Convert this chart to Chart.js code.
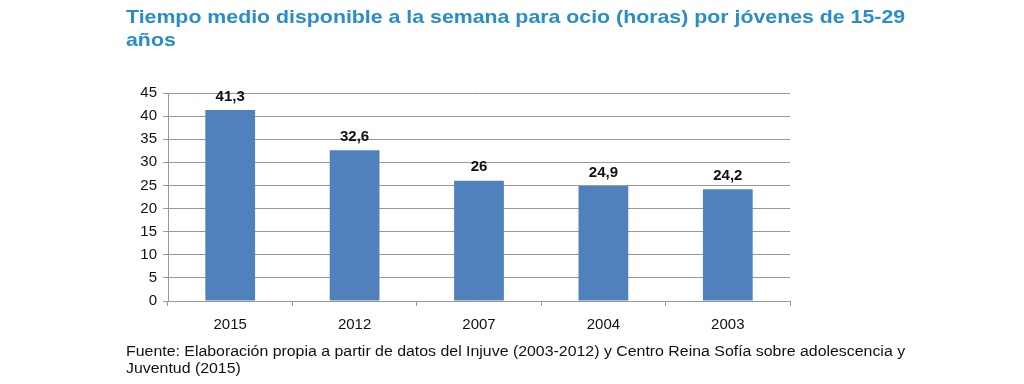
<!DOCTYPE html>
<html>
<head>
<meta charset="utf-8">
<script src="https://cdn.jsdelivr.net/npm/chart.js@4"></script>
<style>
  body { margin: 0; background: #fff; }
  #wrap { position: relative; width: 1024px; height: 384px; overflow: hidden; }
  #title { position: absolute; left: 126px; top: 5px; white-space: nowrap; font: bold 19px "Liberation Sans", Arial, sans-serif; color: #2a8dcb; line-height: 23px; transform: scaleX(1.122); transform-origin: left top; }
  #source { position: absolute; left: 126px; top: 343px; white-space: nowrap; font: 14px "Liberation Sans", Arial, sans-serif; color: #111; line-height: 17px; transform: scaleX(1.135); transform-origin: left top; }
  #box { position: absolute; left: 0; top: 0; width: 1024px; height: 384px; }
</style>
</head>
<body>
<div id="wrap">
  <div id="box"><canvas id="chart"></canvas></div>
  <div id="title">Tiempo medio disponible a la semana para ocio (horas) por jóvenes de 15-29<br>años</div>
  <div id="source">Fuente: Elaboración propia a partir de datos del Injuve (2003-2012) y Centro Reina Sofía sobre adolescencia y<br>Juventud (2015)</div>
</div>
<script>
const years = ['2015', '2012', '2007', '2004', '2003'];
const hours = [41.3, 32.6, 26, 24.9, 24.2];
const yTicks = [0, 5, 10, 15, 20, 25, 30, 35, 40, 45];

// etiquetas encima de cada barra
const valueLabels = {
    id: 'valueLabels',
    afterDatasetsDraw(chart) {
        const ctx = chart.ctx;
        const meta = chart.getDatasetMeta(0);
        ctx.save();
        ctx.font = 'bold 15px "Liberation Sans", Arial, sans-serif';
        ctx.fillStyle = '#111';
        ctx.textAlign = 'center';
        ctx.textBaseline = 'bottom';
        meta.data.forEach((bar, i) => {
            ctx.fillText(String(hours[i]).replace('.', ','), bar.x, bar.y - 6);
        });
        ctx.restore();
    }
};

const data = {
    labels: years,
    datasets: [{
        data: hours,
        backgroundColor: '#4f81bd',
        categoryPercentage: 1,
        barPercentage: 0.4
    }]
};

const config = {
    type: 'bar',
    data: data,
    plugins: [valueLabels],
    options: {
        responsive: true,
        maintainAspectRatio: false,
        animation: false,
        layout: { padding: { top: 93, right: 234, left: 0, bottom: 0 } },
        plugins: { legend: { display: false }, tooltip: { enabled: false } },
        scales: {
            x: {
                grid: { drawOnChartArea: false, offset: true, tickLength: 5, color: '#999' },
                border: { color: '#999' },
                ticks: { color: '#111', padding: 10, font: { size: 15, family: '"Liberation Sans", Arial, sans-serif' } },
                afterFit(scale) { scale.height = 83; }
            },
            y: {
                min: 0,
                max: 45,
                afterBuildTicks(scale) { scale.ticks = yTicks.map(v => ({ value: v })); },
                grid: { color: '#999', tickLength: 5 },
                border: { color: '#999' },
                ticks: { color: '#111', padding: 6, font: { size: 15, family: '"Liberation Sans", Arial, sans-serif' } },
                afterFit(scale) { scale.width = 168; }
            }
        }
    }
};

var ctx = document.getElementById('chart').getContext('2d');
var myChart = new Chart(ctx, config);
</script>
</body>
</html>
